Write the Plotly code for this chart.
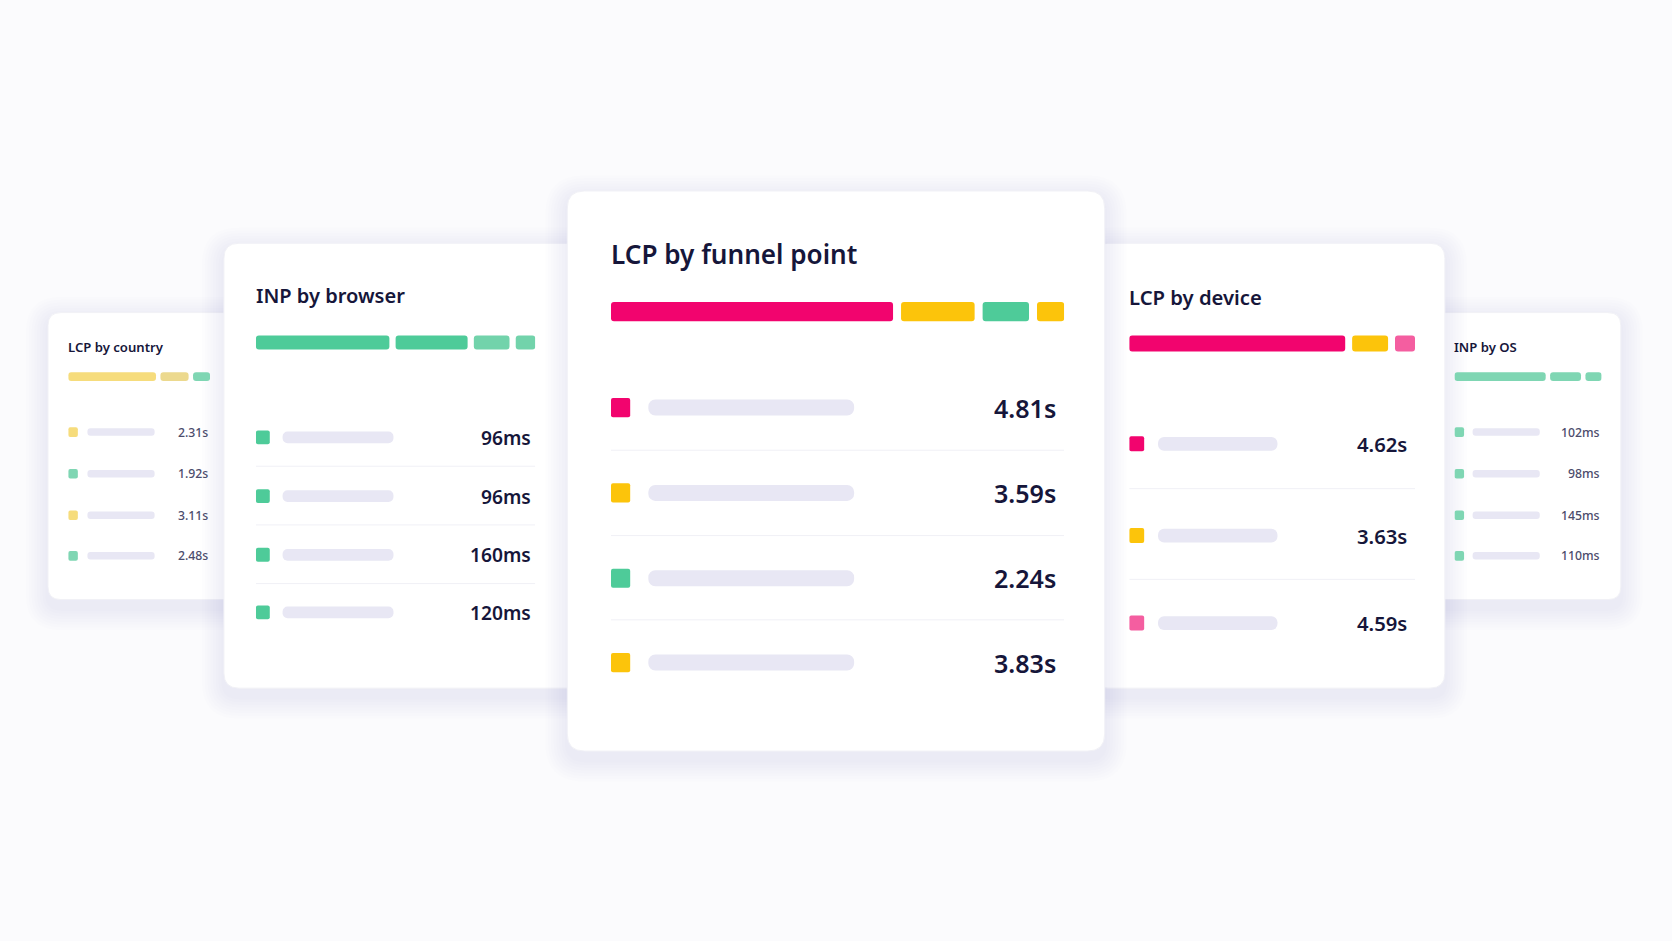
import plotly.graph_objects as go

# ---- data ----
country_share = [65, 23, 12]
country_lcp = [2.31, 1.92, 3.11, 2.48]

browser_share = [50, 28, 15, 7]
browser_inp = [96, 96, 160, 120]

funnel_share = [64, 18, 12, 6]
funnel_lcp = [4.81, 3.59, 2.24, 3.83]

device_share = [78, 15, 7]
device_lcp = [4.62, 3.63, 4.59]

os_share = [65, 24, 11]
os_inp = [102, 98, 145, 110]

# ---- colours ----
PINK = "#f2046e"
PINK_LIGHT = "#f45ea0"
YELLOW = "#fcc40b"
GREEN = "#4ecb99"
GREEN_SOFT = "#72d3ab"
Y_FADE = "#f6dc7c"
Y_FADE2 = "#ecd98e"
G_FADE = "#7fd6b3"
GREY_BAR = "#e8e7f4"
NAVY = "#16163a"
BG = "#fbfbfd"

W_REF, H_REF = 1568, 882
S = 1672 / W_REF

# layout of each card in reference pixels (x grows right, y grows down)
cards = [
    dict(name="LCP by country", share=country_share, seg_colors=[Y_FADE, Y_FADE2, G_FADE],
         values=[f"{v:.2f}s" for v in country_lcp], row_colors=[Y_FADE, G_FADE, Y_FADE, G_FADE],
         rect=(45, 293, 240, 562), radius=12, cx=(64, 197), title_y=325, title_size=12.3,
         bar_y=353, bar_h=8, rows=[405, 444, 483, 521], sq=9, grey=(82, 145), grey_h=7,
         val_x=197, val_size=11.5, val_color="#4c4c6c", seps=[], weight=500),
    dict(name="INP by OS", share=os_share, seg_colors=[G_FADE, G_FADE, G_FADE],
         values=[f"{v}ms" for v in os_inp], row_colors=[G_FADE] * 4,
         rect=(1330, 293, 1520, 562), radius=12, cx=(1364, 1502), title_y=325, title_size=12.3,
         bar_y=353, bar_h=8, rows=[405, 444, 483, 521], sq=9, grey=(1381, 1444), grey_h=7,
         val_x=1502, val_size=11.5, val_color="#4c4c6c", seps=[], weight=500),
    dict(name="INP by browser", share=browser_share, seg_colors=[GREEN, GREEN, GREEN_SOFT, GREEN_SOFT],
         values=[f"{v}ms" for v in browser_inp], row_colors=[GREEN] * 4,
         rect=(210, 228, 550, 645), radius=14, cx=(240, 502), title_y=277, title_size=18.8,
         bar_y=321, bar_h=13, rows=[410, 465, 520, 574], sq=13, grey=(265, 369), grey_h=11,
         val_x=500, val_size=18, val_color=NAVY, seps=[437, 492, 547], weight=600),
    dict(name="LCP by device", share=device_share, seg_colors=[PINK, YELLOW, PINK_LIGHT],
         values=[f"{v:.2f}s" for v in device_lcp], row_colors=[PINK, YELLOW, PINK_LIGHT],
         rect=(1025, 228, 1355, 645), radius=14, cx=(1059, 1327), title_y=278, title_size=19,
         bar_y=322, bar_h=15, rows=[416, 502, 584], sq=14, grey=(1086, 1198), grey_h=13,
         val_x=1321, val_size=19, val_color=NAVY, seps=[458, 543], weight=600),
    dict(name="LCP by funnel point", share=funnel_share, seg_colors=[PINK, YELLOW, GREEN, YELLOW],
         values=[f"{v:.2f}s" for v in funnel_lcp], row_colors=[PINK, YELLOW, GREEN, YELLOW],
         rect=(532, 179, 1036, 704), radius=16, cx=(573, 998), title_y=238, title_size=24.5,
         bar_y=292, bar_h=18, rows=[382, 462, 542, 621], sq=18, grey=(608, 801), grey_h=15,
         val_x=992, val_size=23.5, val_color=NAVY, seps=[422, 502, 581], weight=600),
]


def rounded_path(x0, y0, x1, y1, r):
    # reference pixels -> paper coordinates (y up)
    X = lambda v: v / W_REF
    Y = lambda v: 1 - v / H_REF
    rx, ry = r / W_REF, r / H_REF
    a, b, c, d = X(x0), Y(y0), X(x1), Y(y1)
    return (f"M{a + rx},{b} L{c - rx},{b} Q{c},{b} {c},{b - ry} "
            f"L{c},{d + ry} Q{c},{d} {c - rx},{d} L{a + rx},{d} "
            f"Q{a},{d} {a},{d + ry} L{a},{b - ry} Q{a},{b} {a + rx},{b} Z")


fig = go.Figure()
shapes = []
annotations = []
layout_axes = {}

for i, c in enumerate(cards, start=1):
    xa = "x" if i == 1 else f"x{i}"
    total = sum(c["share"])
    x0, x1 = c["cx"]
    span = x1 - x0

    def units(px):
        return (px - x0) / span * total

    # card body with a soft shadow
    rx0, ry0, rx1, ry1 = c["rect"]
    for k in range(8, 0, -1):
        e = k * 2.6
        shapes.append(dict(type="path", xref="paper", yref="paper", layer="below",
                           path=rounded_path(rx0 - e, ry0 - e + 6, rx1 + e, ry1 + e + 8, c["radius"] + e),
                           fillcolor="rgba(40,40,100,0.009)", line=dict(width=0)))
    shapes.append(dict(type="path", xref="paper", yref="paper", layer="below",
                       path=rounded_path(rx0, ry0, rx1, ry1, c["radius"]),
                       fillcolor="#ffffff", line=dict(color="#f1f1f6", width=1)))

    # stacked share bar
    gap = units(x0 + 6 * c["bar_h"] / 18 + 1.5)
    bases, lens = [], []
    acc = 0
    for j, s in enumerate(c["share"]):
        bases.append(acc)
        lens.append(s - (gap if j < len(c["share"]) - 1 else 0))
        acc += s
    fig.add_trace(go.Bar(x=lens, base=bases, y=[c["bar_y"]] * len(lens), orientation="h",
                         width=c["bar_h"], marker=dict(color=c["seg_colors"], cornerradius=3 * S,
                                                      line=dict(width=0)),
                         xaxis=xa, yaxis="y", hoverinfo="skip"))

    # rows: colour square, grey placeholder, value
    n = len(c["rows"])
    fig.add_trace(go.Bar(x=[units(x0 + c["sq"])] * n, base=[0] * n, y=c["rows"], orientation="h",
                         width=c["sq"], marker=dict(color=c["row_colors"], cornerradius=2.5 * S,
                                                    line=dict(width=0)),
                         xaxis=xa, yaxis="y", hoverinfo="skip"))
    g0, g1 = c["grey"]
    fig.add_trace(go.Bar(x=[units(g1) - units(g0)] * n, base=[units(g0)] * n, y=c["rows"],
                         orientation="h", width=c["grey_h"],
                         marker=dict(color=GREY_BAR, cornerradius=c["grey_h"] * S / 2,
                                     line=dict(width=0)),
                         xaxis=xa, yaxis="y", hoverinfo="skip"))
    for yv, txt in zip(c["rows"], c["values"]):
        annotations.append(dict(xref=xa, yref="y", x=units(c["val_x"]), y=yv, text=txt,
                                showarrow=False, xanchor="right", yanchor="middle",
                                font=dict(family="Noto Sans", size=c["val_size"] * S,
                                          color=c["val_color"], weight=c["weight"])))
    for yv in c["seps"]:
        shapes.append(dict(type="line", xref=xa, yref="y", x0=0, x1=total, y0=yv, y1=yv,
                           line=dict(color="#f0f0f6", width=1)))

    annotations.append(dict(xref=xa, yref="y", x=0, y=c["title_y"], text=c["name"],
                            showarrow=False, xanchor="left", yanchor="middle", xshift=-2,
                            font=dict(family="Noto Sans", size=c["title_size"] * S,
                                      color=NAVY, weight=600)))

    layout_axes[f"xaxis{'' if i == 1 else i}"] = dict(
        domain=[x0 / W_REF, x1 / W_REF], range=[0, total], visible=False,
        anchor="y", fixedrange=True)

fig.update_layout(
    width=1672, height=941,
    margin=dict(l=0, r=0, t=0, b=0),
    paper_bgcolor=BG, plot_bgcolor="rgba(0,0,0,0)",
    barmode="overlay", showlegend=False,
    yaxis=dict(domain=[0, 1], range=[H_REF, 0], visible=False, fixedrange=True),
    shapes=shapes, annotations=annotations,
    **layout_axes,
)

fig.write_html("out.html", config={"displayModeBar": False},
               post_script="document.body.style.margin='0';document.body.style.overflow='hidden';")
